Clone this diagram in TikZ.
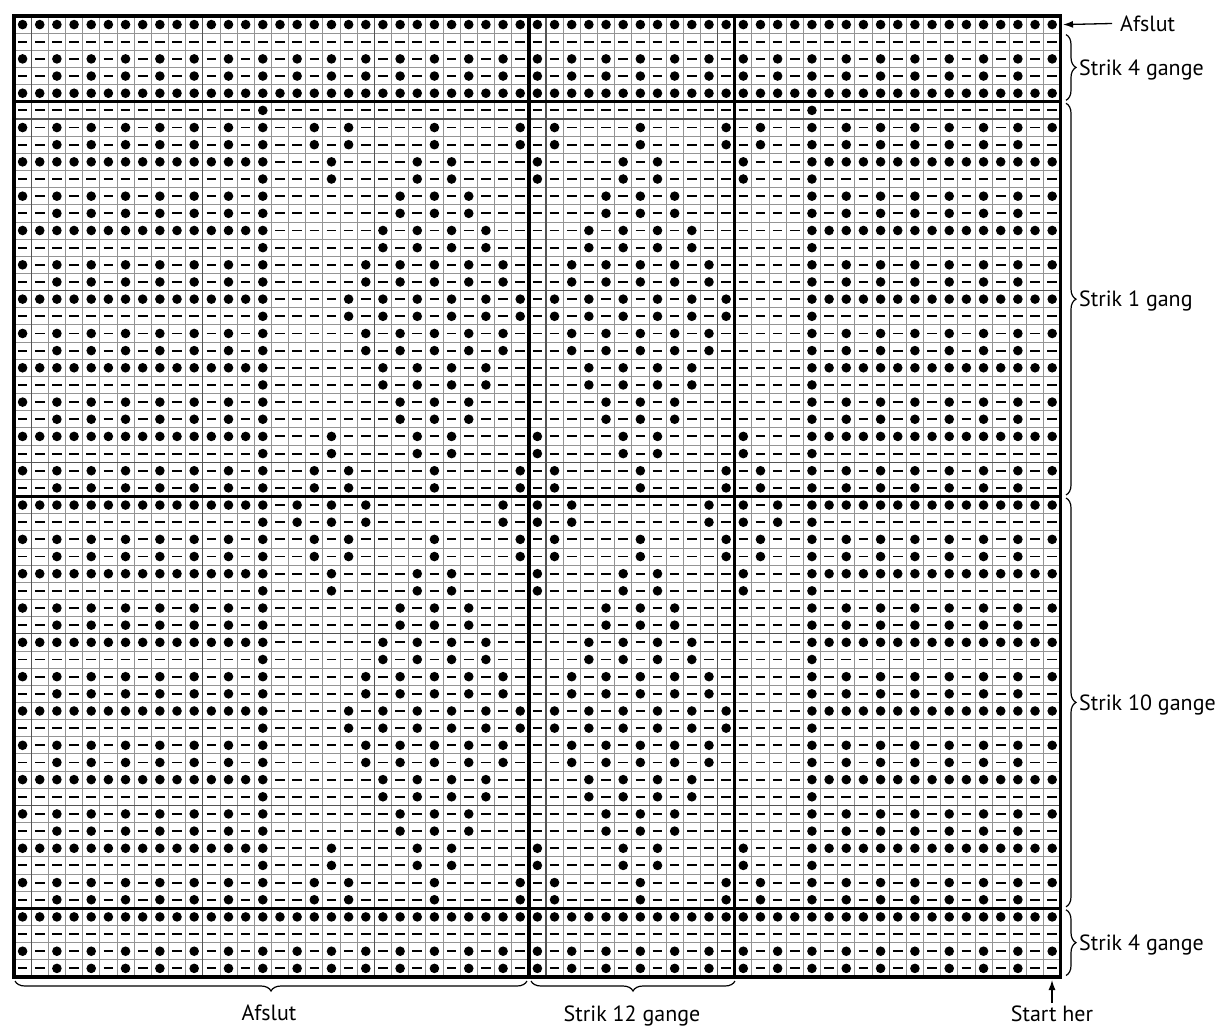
\documentclass[tikz,border=0pt]{standalone}
\usepackage{fontspec}
\setmainfont{PT Sans}
\usetikzlibrary{decorations.pathreplacing,arrows.meta}
\definecolor{gridthin}{gray}{0.58}
\definecolor{gridgroup}{gray}{0.33}
\newcommand\KWx{14}
\newcommand\KWy{16}
\newcommand\KWc{17.16}
\newcommand\KWdot[2]{%
  \fill[white] ({\KWx+(#1-1)*\KWc+1.3},{\KWy+(#2-1)*\KWc+1.3}) rectangle ++({\KWc-2.6},{\KWc-2.6});
  \fill[black] ({\KWx+(#1-0.5)*\KWc},{\KWy+(#2-0.5)*\KWc}) circle (4.8);
}
\tikzset{
  lbl/.style={font=\fontsize{22}{26}\selectfont, inner sep=2pt},
  bracel/.style={line width=1.2pt, decorate, decoration={brace, amplitude=10pt}},
  thickl/.style={line width=3.4pt, line cap=rect},
  arrowl/.style={line width=1.3pt, -{Latex[length=10pt,width=7pt]}}
}
\begin{document}
\begin{tikzpicture}[x=1pt,y=-1pt]
\useasboundingbox (0,0) rectangle (1220,1027);
% dashes in every cell
\draw[line width=1.9pt] \foreach \r in {1,...,56} { \foreach \c in {1,...,61} { ({\KWx+(\c-0.5)*\KWc-4.8},{\KWy+(\r-0.5)*\KWc}) -- ++(9.6,0) } };
% border rows
\foreach \r in {1,5,53} { \foreach \c in {1,...,61} { \KWdot{\c}{\r} } }
\foreach \r in {3,55} { \foreach \c in {1,3,...,61} { \KWdot{\c}{\r} } }
\foreach \r in {4,56} { \foreach \c in {3,5,...,59} { \KWdot{\c}{\r} } }
% side blocks
\foreach \r in {6,...,52} {
  \pgfmathtruncatemacro\KWt{mod(\r-6,4)}
  \ifcase\KWt
    \KWdot{15}{\r}\KWdot{47}{\r}
  \or
    \foreach \c in {1,3,...,15} { \KWdot{\c}{\r}\KWdot{62-\c}{\r} }
  \or
    \foreach \c in {3,5,...,15} { \KWdot{\c}{\r}\KWdot{62-\c}{\r} }
  \or
    \foreach \c in {1,...,15} { \KWdot{\c}{\r}\KWdot{62-\c}{\r} }
  \fi
}
% middle motif
\foreach \ra/\m in {7/{18,20,25,30}, 9/{19,24,26,31}, 11/{23,25,27}, 13/{22,24,26,28}, 15/{21,23,25,27,29}, 17/{20,22,24,26,28,30}, 19/{21,23,25,27,29}, 21/{22,24,26,28}, 23/{23,25,27}, 25/{19,24,26,31}, 27/{18,20,25,30}, 29/{17,19,21,29,31}, 31/{18,20,25,30}, 33/{19,24,26,31}, 35/{23,25,27}, 37/{22,24,26,28}, 39/{21,23,25,27,29}, 41/{20,22,24,26,28,30}, 43/{21,23,25,27,29}, 45/{22,24,26,28}, 47/{23,25,27}, 49/{19,24,26,31}, 51/{18,20,25,30}} {
  \foreach \c in \m {
    \KWdot{\c}{\ra}\KWdot{\c}{\ra+1}\KWdot{62-\c}{\ra}\KWdot{62-\c}{\ra+1}
  }
}
% grid lines
\draw[gridthin, line width=0.8pt] \foreach \c in {0,...,61} { ({\KWx+\c*\KWc},\KWy) -- ++(0,{56*\KWc}) };
\draw[gridthin, line width=0.8pt] \foreach \r in {0,...,56} { (\KWx,{\KWy+\r*\KWc}) -- ++({61*\KWc},0) };
\draw[gridgroup, line width=1.1pt] \foreach \c in {1,11,21,31,41,51} { ({\KWx+\c*\KWc},\KWy) -- ++(0,{56*\KWc}) };
\draw[gridgroup, line width=1.1pt] \foreach \r in {6,16,26,36,46} { (\KWx,{\KWy+\r*\KWc}) -- ++({61*\KWc},0) };
% thick section lines
\draw[thickl] \foreach \r in {5,28,52} { (\KWx,{\KWy+\r*\KWc}) -- ++({61*\KWc},0) };
\draw[thickl] \foreach \c in {30,42} { ({\KWx+\c*\KWc},\KWy) -- ++(0,{56*\KWc}) };
\draw[thickl] (\KWx,\KWy) rectangle ++({61*\KWc},{56*\KWc});
% right braces and labels
\draw[bracel] (1066,34.6) -- (1066,100.3);
\draw[bracel] (1066,103.3) -- (1066,495);
\draw[bracel] (1066,498) -- (1066,906.8);
\draw[bracel] (1066,909.8) -- (1066,975.5);
\node[lbl, anchor=base west] (s4top) at (1077,75.2) {Strik 4 gange};
\node[lbl, anchor=base west] (s1) at (1077,306.9) {Strik 1 gang};
\node[lbl, anchor=base west] (s10) at (1077,710.1) {Strik 10 gange};
\node[lbl, anchor=base west] (s4bot) at (1077,950.4) {Strik 4 gange};
% top Afslut
\node[lbl, anchor=west, inner sep=8pt] (afsluttop) at (1112,23.5) {Afslut};
\coordinate (toprow) at (1063,24.6);
\draw[arrowl] (afsluttop.west) -- (toprow);
% bottom braces and labels
\draw[bracel] (527,981) -- (15,981);
\draw[bracel] (735,981) -- (531,981);
\node[lbl, anchor=base] (afslutbot) at (269,1020) {Afslut};
\node[lbl, anchor=base] (s12) at (632,1021) {Strik 12 gange};
\node[lbl, anchor=base] (starther) at (1052,1021) {Start her};
\coordinate (startcell) at (1052,980);
\draw[arrowl] (starther.north) -- (startcell);
\end{tikzpicture}
\end{document}
